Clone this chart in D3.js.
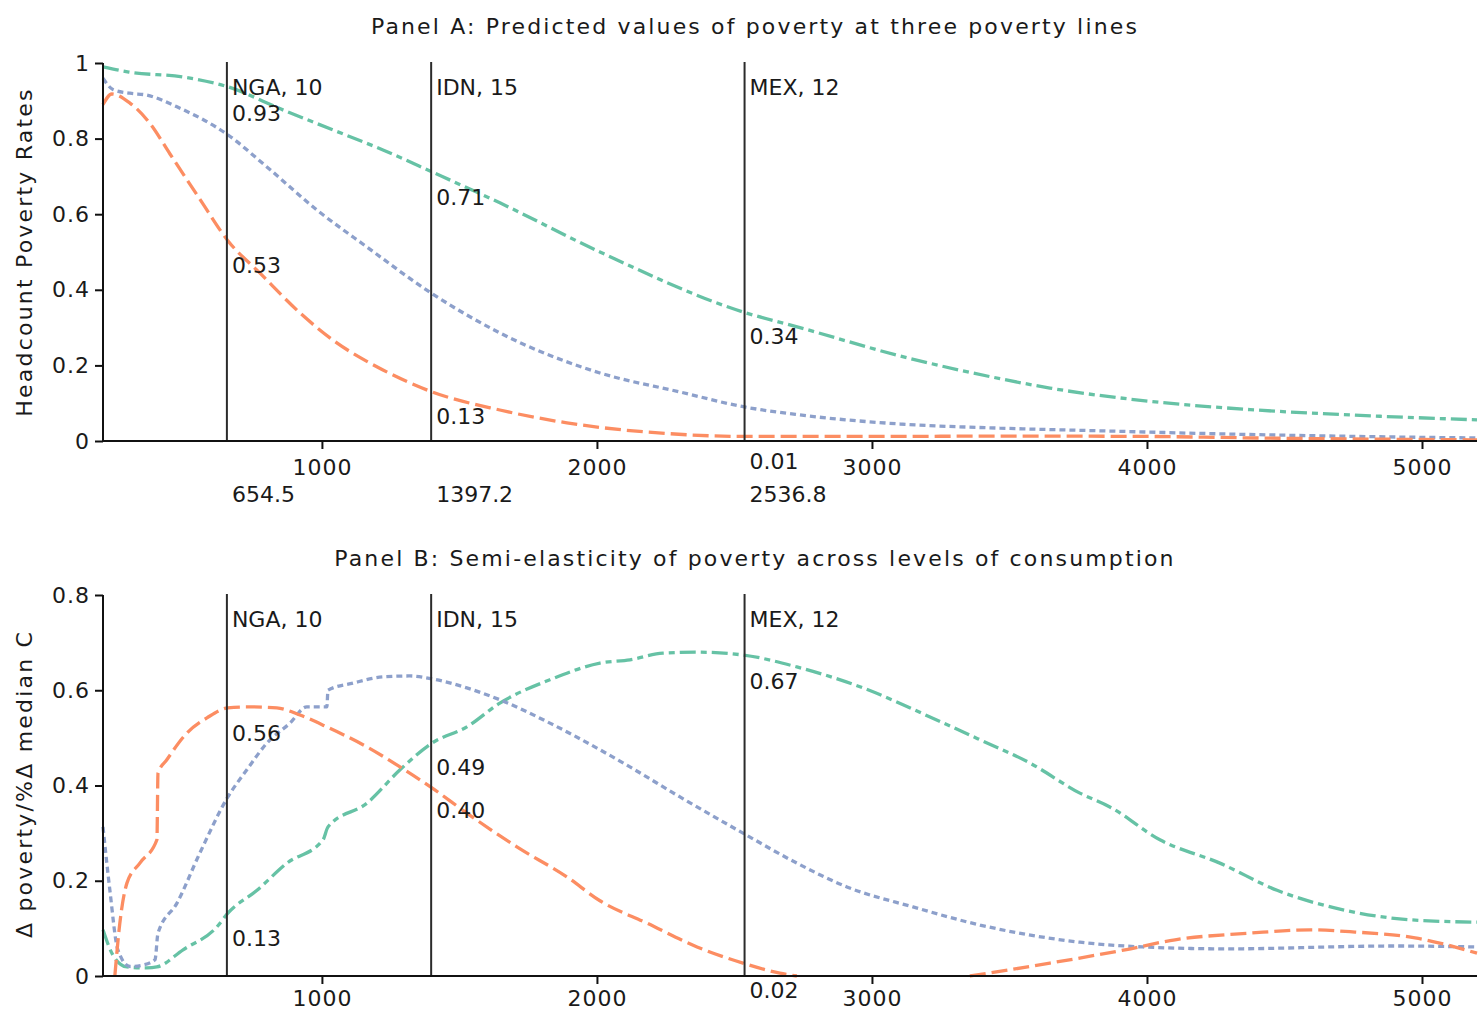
<!DOCTYPE html>
<html><head><meta charset="utf-8">
<script src="https://cdn.jsdelivr.net/npm/d3@7"></script>
<style>
body{margin:0;background:#fff;}
text{font-family:"DejaVu Sans",Verdana,sans-serif;fill:#1a1a1a;}
</style></head><body>
<svg id="chart" width="1479" height="1013"></svg>
<script>
// ---------- data ----------
const xTicks = [1000, 2000, 3000, 4000, 5000];
const yTicksA = [0, 0.2, 0.4, 0.6, 0.8, 1];
const yTicksB = [0, 0.2, 0.4, 0.6, 0.8];
const lineNames = ["NGA, 10", "IDN, 15", "MEX, 12"];
const lineX = [654.5, 1397.2, 2536.8];
const lineXLabels = ["654.5", "1397.2", "2536.8"];
const titleA = "Panel A: Predicted values of poverty at three poverty lines";
const titleB = "Panel B: Semi-elasticity of poverty across levels of consumption";
const yTitleA = "Headcount Poverty Rates";
const yTitleB = "\u0394 poverty/%\u0394 median C";

// value labels at the three lines
const labelsAGreen = [0.93, 0.71, 0.34];
const labelsAOrange = [0.53, 0.13, 0.01];
const labelsBGreen = [0.13, 0.49, 0.67];
const labelsBOrange = [0.56, 0.40, 0.02];

// Panel A series [consumption, headcount]
const aOrange = [[204,0.89],[236,0.918],[302,0.894],[375,0.84],[447,0.76],[556,0.64],[658,0.53],[775,0.444],[920,0.339],[1040,0.267],[1222,0.188],[1400,0.13],[1647,0.082],[1891,0.048],[2011,0.036],[2250,0.02],[2537,0.012],[3000,0.012],[3500,0.013],[4000,0.012],[4400,0.008],[5000,0.004],[5200,0.003]];
const aBlue = [[204,0.96],[240,0.93],[302,0.92],[364,0.915],[473,0.884],[658,0.81],[800,0.725],[982,0.611],[1164,0.513],[1400,0.39],[1647,0.286],[2011,0.18],[2300,0.13],[2537,0.09],[2738,0.069],[3102,0.045],[3465,0.034],[3829,0.027],[4200,0.02],[4600,0.014],[5200,0.008]];
const aGreen = [[204,0.99],[298,0.976],[495,0.963],[658,0.937],[858,0.876],[1040,0.823],[1222,0.77],[1400,0.712],[1647,0.63],[2011,0.5],[2537,0.34],[2738,0.3],[3102,0.225],[3465,0.165],[3647,0.14],[4011,0.105],[4375,0.083],[4738,0.069],[5200,0.056]];

// Panel B series [consumption, semi-elasticity]; null = not drawn
const bOrange = [[247,0],[265,0.11],[291,0.195],[338,0.237],[400,0.286],[404,0.426],[436,0.454],[509,0.51],[582,0.542],[658,0.563],[738,0.565],[836,0.563],[920,0.548],[1018,0.523],[1164,0.481],[1284,0.439],[1400,0.395],[1527,0.342],[1709,0.271],[1891,0.208],[2011,0.158],[2182,0.111],[2364,0.061],[2531,0.027],[2665,0.006],[2727,0],[3000,null],[3356,0],[3647,0.027],[3920,0.055],[4102,0.076],[4375,0.09],[4593,0.097],[4738,0.093],[4975,0.08],[5200,0.048]];
const bBlue = [[204,0.313],[229,0.18],[258,0.055],[302,0.02],[349,0.023],[393,0.034],[404,0.09],[473,0.153],[556,0.258],[658,0.376],[727,0.433],[800,0.489],[884,0.531],[945,0.565],[1018,0.565],[1022,0.6],[1113,0.615],[1222,0.628],[1320,0.63],[1400,0.624],[1527,0.605],[1647,0.58],[1829,0.531],[2011,0.475],[2120,0.439],[2302,0.376],[2531,0.3],[2727,0.237],[2909,0.187],[3149,0.145],[3393,0.107],[3756,0.071],[3985,0.061],[4291,0.057],[4895,0.063],[5200,0.061]];
const bGreen = [[204,0.097],[240,0.044],[291,0.019],[364,0.017],[400,0.019],[495,0.055],[618,0.103],[658,0.132],[764,0.18],[873,0.237],[1004,0.286],[1022,0.313],[1164,0.363],[1284,0.433],[1400,0.489],[1527,0.523],[1647,0.573],[1829,0.622],[2011,0.657],[2120,0.664],[2240,0.678],[2364,0.68],[2531,0.674],[2727,0.649],[2967,0.605],[3211,0.544],[3393,0.496],[3575,0.447],[3756,0.384],[3865,0.355],[4047,0.286],[4265,0.237],[4473,0.18],[4713,0.139],[4956,0.118],[5200,0.113]];

// ---------- styles ----------
const GREEN = "#66c2a5", BLUE = "#8da0cb", ORANGE = "#fc8d62";
const seriesStyle = {
  orange: {color: ORANGE, dash: "16,6"},
  blue: {color: BLUE, dash: "6,4"},
  green: {color: GREEN, dash: "16,5,6,5"}
};

const svg = d3.select("#chart");
const xScale = d3.scaleLinear().domain([204, 5200]).range([103, 1477]);

function panel(cfg) {
  const g = svg.append("g");
  const y = d3.scaleLinear().domain(cfg.yDomain).range([cfg.bottom, cfg.top]);

  // title
  g.append("text").attr("x", 755).attr("y", cfg.titleY + 8)
    .attr("text-anchor", "middle").style("font-size", "22px").style("letter-spacing", "2.15px")
    .text(cfg.title);

  // y title
  g.append("text").attr("transform", `translate(${32},${cfg.yTitleY}) rotate(-90)`)
    .attr("text-anchor", "middle").style("font-size", "22px").style("letter-spacing", "2.2px")
    .text(cfg.yTitle);

  // series
  const line = d3.line().defined(d => d[1] != null)
    .x(d => xScale(d[0])).y(d => y(d[1])).curve(d3.curveMonotoneX);
  cfg.series.forEach(s => {
    const st = seriesStyle[s.style];
    g.append("path").datum(s.data).attr("d", line)
      .attr("fill", "none").attr("stroke", st.color).attr("stroke-width", 3.3)
      .attr("stroke-dasharray", st.dash);
  });

  // vertical lines
  lineX.forEach((lx, i) => {
    const px = xScale(lx);
    g.append("line").attr("x1", px).attr("x2", px).attr("y1", cfg.top - 1).attr("y2", cfg.bottom)
      .attr("stroke", "#2b2b2b").attr("stroke-width", 2);
    g.append("text").attr("x", px + 5).attr("y", cfg.top + 24 + 8)
      .style("font-size", "22px").text(lineNames[i]);
    cfg.labels.forEach(arr => {
      g.append("text").attr("x", px + 5).attr("y", y(arr[i]) + 24 + 8)
        .style("font-size", "22px").text(d3.format(".2f")(arr[i]));
    });
    if (cfg.showXVal) {
      g.append("text").attr("x", px + 5).attr("y", cfg.bottom + 53 + 8)
        .style("font-size", "22px").text(lineXLabels[i]);
    }
  });

  // axes
  const xAxis = d3.axisBottom(xScale).tickValues(xTicks).tickSize(8).tickPadding(cfg.xPad)
    .tickFormat(d3.format("d"));
  const gx = g.append("g").attr("transform", `translate(0,${cfg.bottom})`).call(xAxis);
  gx.select(".domain").attr("stroke", "#111").attr("stroke-width", 2)
    .attr("d", `M${xScale.range()[0]},0H${xScale.range()[1]}`);
  gx.selectAll(".tick line").attr("stroke", "#111").attr("stroke-width", 2);
  gx.selectAll(".tick text").style("font-size", "22px").style("letter-spacing", "1px")
    .style("font-family", "DejaVu Sans").attr("fill", "#1a1a1a");

  const yAxis = d3.axisLeft(y).tickValues(cfg.yTicks).tickSize(8).tickPadding(5)
    .tickFormat(d => d === 0 || d === 1 ? String(d) : d3.format(".1f")(d));
  const gy = g.append("g").attr("transform", `translate(${xScale.range()[0]},0)`).call(yAxis);
  gy.select(".domain").attr("stroke", "#111").attr("stroke-width", 2)
    .attr("d", `M0,${cfg.top}V${cfg.bottom}`);
  gy.selectAll(".tick line").attr("stroke", "#111").attr("stroke-width", 2);
  gy.selectAll(".tick text").style("font-size", "22px").style("letter-spacing", "1px")
    .style("font-family", "DejaVu Sans").attr("fill", "#1a1a1a");
}

panel({
  top: 63, bottom: 441, yDomain: [0, 1], yTicks: yTicksA, xPad: 10,
  title: titleA, titleY: 26, yTitle: yTitleA, yTitleY: 252,
  series: [{data: aGreen, style: "green"}, {data: aBlue, style: "blue"}, {data: aOrange, style: "orange"}],
  labels: [labelsAGreen, labelsAOrange], showXVal: true
});
panel({
  top: 595, bottom: 976, yDomain: [0, 0.8], yTicks: yTicksB, xPad: 6,
  title: titleB, titleY: 558, yTitle: yTitleB, yTitleY: 784,
  series: [{data: bGreen, style: "green"}, {data: bBlue, style: "blue"}, {data: bOrange, style: "orange"}],
  labels: [labelsBGreen, labelsBOrange], showXVal: false
});
</script>
</body></html>
